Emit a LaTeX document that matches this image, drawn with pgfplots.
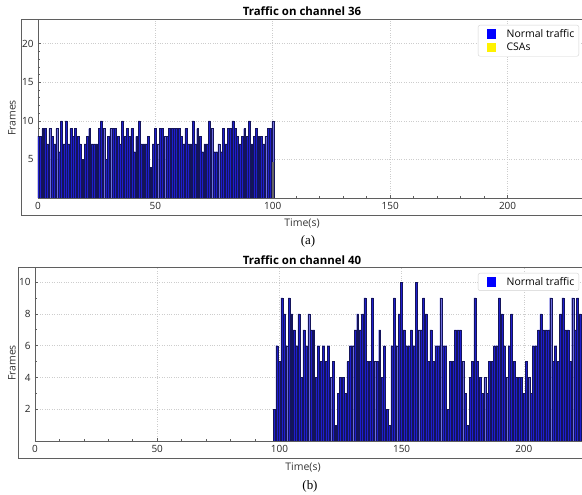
\documentclass[border=0pt]{standalone}
\usepackage{fontspec}
\setmainfont{Open Sans}
\newfontfamily\capfont{Liberation Serif}
\usepackage{pgfplots}
\pgfplotsset{compat=1.18}
\definecolor{barfill}{RGB}{30,30,205}
\definecolor{baredge}{RGB}{20,20,90}
\definecolor{framecol}{RGB}{95,95,95}
\definecolor{gridcol}{RGB}{205,205,205}
\pgfplotsset{
 mystyle/.style={
  scale only axis,
  anchor=south west,
  axis lines=left,
  axis line style={-, framecol, line width=0.9bp},
  tick align=inside,
  tick style={framecol, line width=0.6bp},
  major tick length=3bp,
  minor tick length=1.6bp,
  grid=major,
  major grid style={gridcol, dotted, line width=0.6bp},
  ticklabel style={font=\fontsize{10}{11}\selectfont, text=black!85},
  /pgf/number format/assume math mode=true,
  xtick={0,50,100,150,200},
  minor x tick num=4,
  xticklabel style={yshift=-0.5bp},
  yticklabel style={xshift=-1bp},
  legend cell align=left,
  legend style={at={(1,1)}, anchor=north east, xshift=-3bp, yshift=-6bp,
    draw=gray!35, rounded corners=2bp, fill=white,
    font=\fontsize{10.5}{12}\selectfont, inner xsep=2.5bp, inner ysep=2bp,
    row sep=0.5bp},
 }
}
\newcommand{\sqimg}[1]{\addlegendimage{legend image code/.code={\path[draw=none] (0bp,0bp) -- (24bp,0bp);
    \fill[#1, draw=none, sharp corners] (6bp,-4.6bp) rectangle (15.2bp,4.6bp);}}}
\begin{document}
\begin{tikzpicture}
\useasboundingbox (0,0) rectangle (582bp,495bp);
% ---------- top panel ----------
\begin{axis}[mystyle, at={(38bp,297bp)}, width=544bp, height=179bp,
  xmin=0, xmax=231.7, ymin=0, ymax=23.2,
  ytick={5,10,15,20}, minor y tick num=4]
\sqimg{blue}
\addlegendentry{Normal traffic}
\sqimg{yellow}
\addlegendentry{CSAs}
\addplot[ybar, bar width=0.8, bar shift=0pt, fill=barfill, draw=baredge, line width=0.3bp, forget plot] coordinates {
(0,8)(1,8)(2,9)(3,9)(4,7)(5,9)(6,8)(7,7)(8,9)(9,6)
(10,10)(11,7)(12,10)(13,7)(14,9)(15,8)(16,9)(17,8)(18,7)(19,5)
(20,7)(21,8)(22,9)(23,7)(24,7)(25,7)(26,9)(27,10)(28,9)(29,5)
(30,8)(31,9)(32,9)(33,9)(34,8)(35,7)(36,10)(37,8)(38,9)(39,8)
(40,9)(41,6)(42,8)(43,10)(44,7)(45,7)(46,7)(47,8)(48,4)(49,7)
(50,9)(51,7)(52,9)(53,9)(54,8)(55,8)(56,9)(57,9)(58,9)(59,9)
(60,9)(61,8)(62,7)(63,9)(64,7)(65,7)(66,10)(67,7)(68,9)(69,8)
(70,6)(71,7)(72,7)(73,10)(74,9)(75,6)(76,6)(77,7)(78,6)(79,9)
(80,7)(81,9)(82,9)(83,10)(84,9)(85,8)(86,7)(87,8)(88,9)(89,8)
(90,10)(91,7)(92,8)(93,9)(94,8)(95,8)(96,7)(97,8)(98,9)(99,9)
(100,10)};
\addplot[ybar, bar width=0.45, bar shift=-0.1, fill=yellow, draw=black!60, line width=0.2bp, forget plot] coordinates {(100,4.6)};
\end{axis}
% ---------- bottom panel ----------
\begin{axis}[mystyle, at={(35bp,54bp)}, width=547bp, height=174bp,
  xmin=0, xmax=223.8, ymin=0, ymax=10.95,
  ytick={2,4,6,8,10}, minor y tick num=1]
\sqimg{blue}
\addlegendentry{Normal traffic}
\addplot[ybar, bar width=0.8, bar shift=0pt, fill=barfill, draw=baredge, line width=0.3bp, forget plot] coordinates {
(98,2)(99,6)(100,5)(101,9)(102,8)(103,6)(104,9)(105,8)(106,7)(107,6)
(108,8)(109,4)(110,7)(111,6)(112,8)(113,7)(114,7)(115,4)(116,6)(117,5)
(118,6)(119,5)(120,6)(121,4)(122,5)(123,1)(124,3)(125,4)(126,4)(127,3)
(128,5)(129,6)(130,6)(131,7)(132,8)(133,7)(134,8)(135,9)(136,5)(137,5)
(138,9)(139,5)(140,5)(141,7)(142,4)(143,6)(144,2)(145,1)(146,6)(147,9)
(148,6)(149,8)(150,10)(151,7)(152,6)(153,6)(154,7)(155,6)(156,10)(157,7)
(158,7)(159,9)(160,8)(161,5)(162,7)(163,5)(164,6)(165,6)(166,9)(167,6)
(168,6)(169,2)(170,5)(171,5)(172,7)(173,7)(174,7)(175,5)(176,3)(177,1)
(178,4)(179,5)(180,9)(181,5)(182,4)(183,3)(184,4)(185,3)(186,5)(187,5)
(188,6)(189,6)(190,9)(191,8)(192,6)(193,4)(194,6)(195,8)(196,5)(197,4)
(198,4)(199,4)(200,3)(201,5)(202,4)(203,3)(204,6)(205,6)(206,7)(207,8)
(208,7)(209,7)(210,7)(211,9)(212,5)(213,6)(214,5)(215,8)(216,9)(217,7)
(218,7)(219,5)(220,9)(221,7)(222,9)(223,8)};
\end{axis}
% ---------- frames ----------
\draw[framecol, line width=0.9bp] (582bp,476bp) -- (21bp,476bp) -- (21bp,280bp) -- (582bp,280bp);
\draw[framecol, line width=0.9bp] (582bp,228bp) -- (18bp,228bp) -- (18bp,37bp) -- (582bp,37bp);
% ---------- texts ----------
\node[font=\fontsize{11.5}{13}\selectfont\bfseries] at (302bp,483.5bp) {Traffic on channel 36};
\node[font=\fontsize{11.5}{13}\selectfont\bfseries] at (302bp,235bp) {Traffic on channel 40};
\node[font=\fontsize{10.5}{12}\selectfont, text=black!80] at (302bp,272bp) {Time(s)};
\node[font=\fontsize{10.5}{12}\selectfont, text=black!80] at (303bp,28bp) {Time(s)};
\node[font=\fontsize{10.5}{12}\selectfont, text=black!80, rotate=90] at (12bp,377bp) {Frames};
\node[font=\fontsize{10.5}{12}\selectfont, text=black!80, rotate=90] at (12bp,132bp) {Frames};
\node[font=\fontsize{13}{15}\capfont] at (308bp,254bp) {(a)};
\node[font=\fontsize{13}{15}\capfont] at (310bp,8.5bp) {(b)};
\end{tikzpicture}
\end{document}
